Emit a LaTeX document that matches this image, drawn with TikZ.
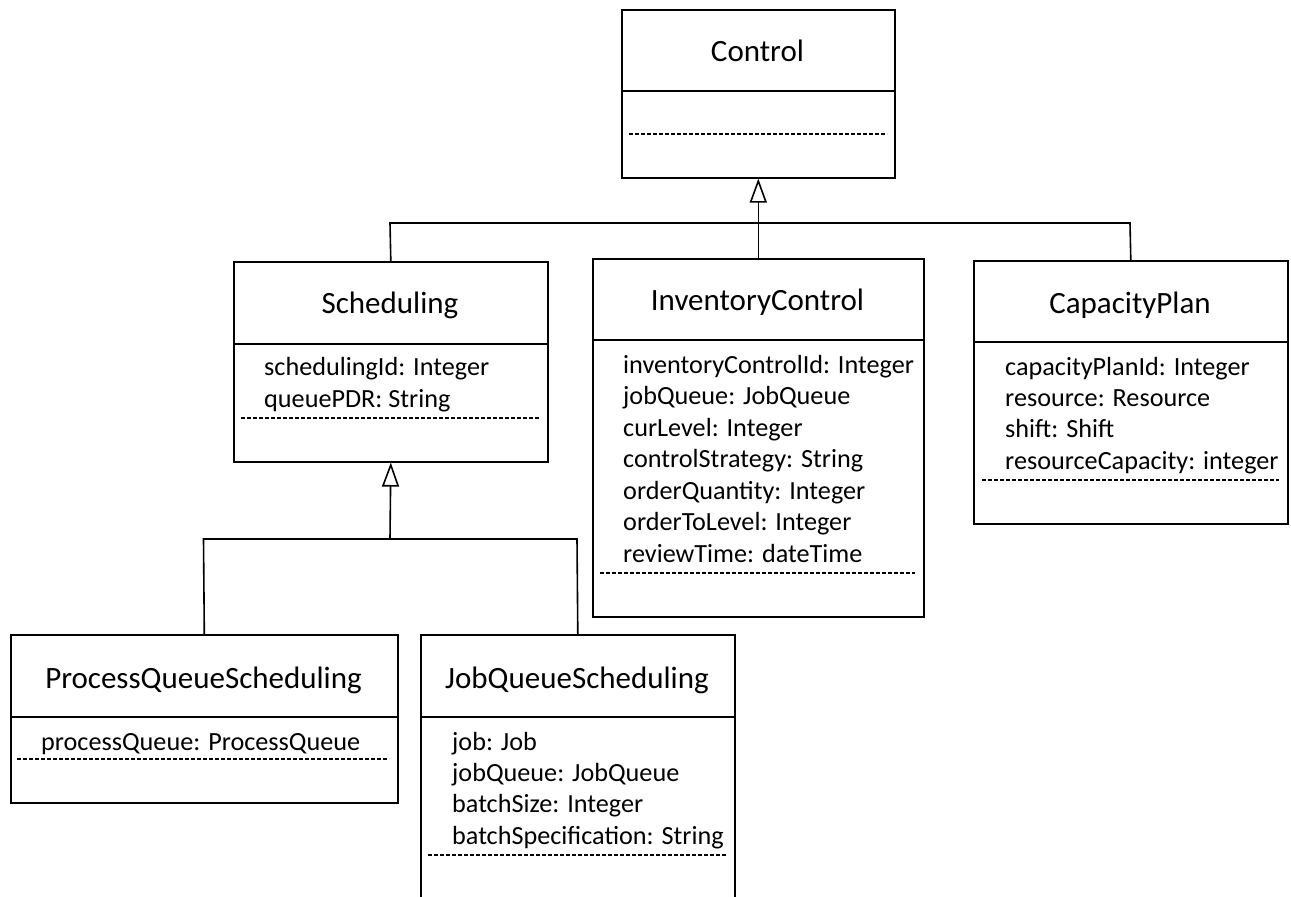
\documentclass[tikz,border=0pt]{standalone}
\usepackage{fontspec}
\setmainfont{Carlito}
\usetikzlibrary{arrows.meta}
\begin{document}
\begin{tikzpicture}[x=1pt,y=-1pt,
  classbox/.style={draw, line width=1.6pt, rectangle, inner sep=0pt, anchor=north west},
  divider/.style={line width=1.6pt},
  opsep/.style={line width=1.1pt, dash pattern=on 4pt off 2pt},
  title/.style={anchor=base, inner sep=0pt, font=\fontsize{31}{36}\selectfont},
  % attribute lists are placed by the baseline of their last line
  attrs/.style={anchor=base west, inner sep=0pt, align=left, font=\fontsize{26.2}{31.3}\selectfont},
  link/.style={line width=1.6pt},
  inherit/.style={line width=1.6pt, -{Triangle[open, length=24pt, width=17pt, line width=1.6pt]}}]
\useasboundingbox (0,0) rectangle (1291,897);
\clip (0,0) rectangle (1291,897);

% Control
\node[classbox, minimum width=273pt, minimum height=168pt] (ctl) at (621,9) {};
\draw[divider] (621,91) -- (894,91);
\draw[opsep] (629,134) -- (887,134);
\node[title] (ctlT) at (757.5,61) {Control};

% Scheduling
\node[classbox, minimum width=314pt, minimum height=200pt] (sch) at (233,261) {};
\draw[divider] (233,344) -- (547,344);
\draw[opsep] (241,418) -- (539,418);
\node[title] (schT) at (390,313) {Scheduling};
\node[attrs] (schA) at (264,407) {schedulingId: Integer\\queuePDR: String};

% InventoryControl
\node[classbox, minimum width=331pt, minimum height=358pt] (inv) at (592,258) {};
\draw[divider] (592,340) -- (923,340);
\draw[opsep] (600,573) -- (915,573);
\node[title] (invT) at (757.5,310) {InventoryControl};
\node[attrs, font=\fontsize{26.2}{31.5}\selectfont] (invA) at (623,562) {inventoryControlId: Integer\\jobQueue: JobQueue\\curLevel: Integer\\controlStrategy: String\\orderQuantity: Integer\\orderToLevel: Integer\\reviewTime: dateTime};

% CapacityPlan
\node[classbox, minimum width=314pt, minimum height=263pt] (cap) at (973,260) {};
\draw[divider] (973,342) -- (1287,342);
\draw[opsep] (982,480) -- (1279,480);
\node[title] (capT) at (1130,313) {CapacityPlan};
\node[attrs] (capA) at (1005,469) {capacityPlanId: Integer\\resource: Resource\\shift: Shift\\resourceCapacity: integer};

% ProcessQueueScheduling
\node[classbox, minimum width=387pt, minimum height=168pt] (pqs) at (10,634) {};
\draw[divider] (10,717) -- (397,717);
\draw[opsep] (17,759) -- (389,759);
\node[title] (pqsT) at (203.5,688) {ProcessQueueScheduling};
\node[attrs] (pqsA) at (41,750) {processQueue: ProcessQueue};

% JobQueueScheduling (runs past the lower edge)
\node[classbox, minimum width=314pt, minimum height=290pt] (jqs) at (420,634) {};
\draw[divider] (420,717) -- (734,717);
\draw[opsep] (428,855) -- (726,855);
\node[title] (jqsT) at (577,688) {JobQueueScheduling};
\node[attrs] (jqsA) at (452,844) {job: Job\\jobQueue: JobQueue\\batchSize: Integer\\batchSpecification: String};

% Generalisation to Control
\coordinate (busL) at (390,223);
\coordinate (busR) at (1130,223);
\draw[link] (sch.north) -- (busL) -- (busR) -- (cap.north);
\draw[inherit] (inv.north) -- (ctl.south);

% Generalisation to Scheduling
\coordinate (bus2L) at (203.5,539);
\coordinate (bus2R) at (577,539);
\draw[link] (pqs.north) -- (bus2L) -- (bus2R) -- (jqs.north);
\draw[inherit] (390,539) -- (sch.south);
\end{tikzpicture}
\end{document}
